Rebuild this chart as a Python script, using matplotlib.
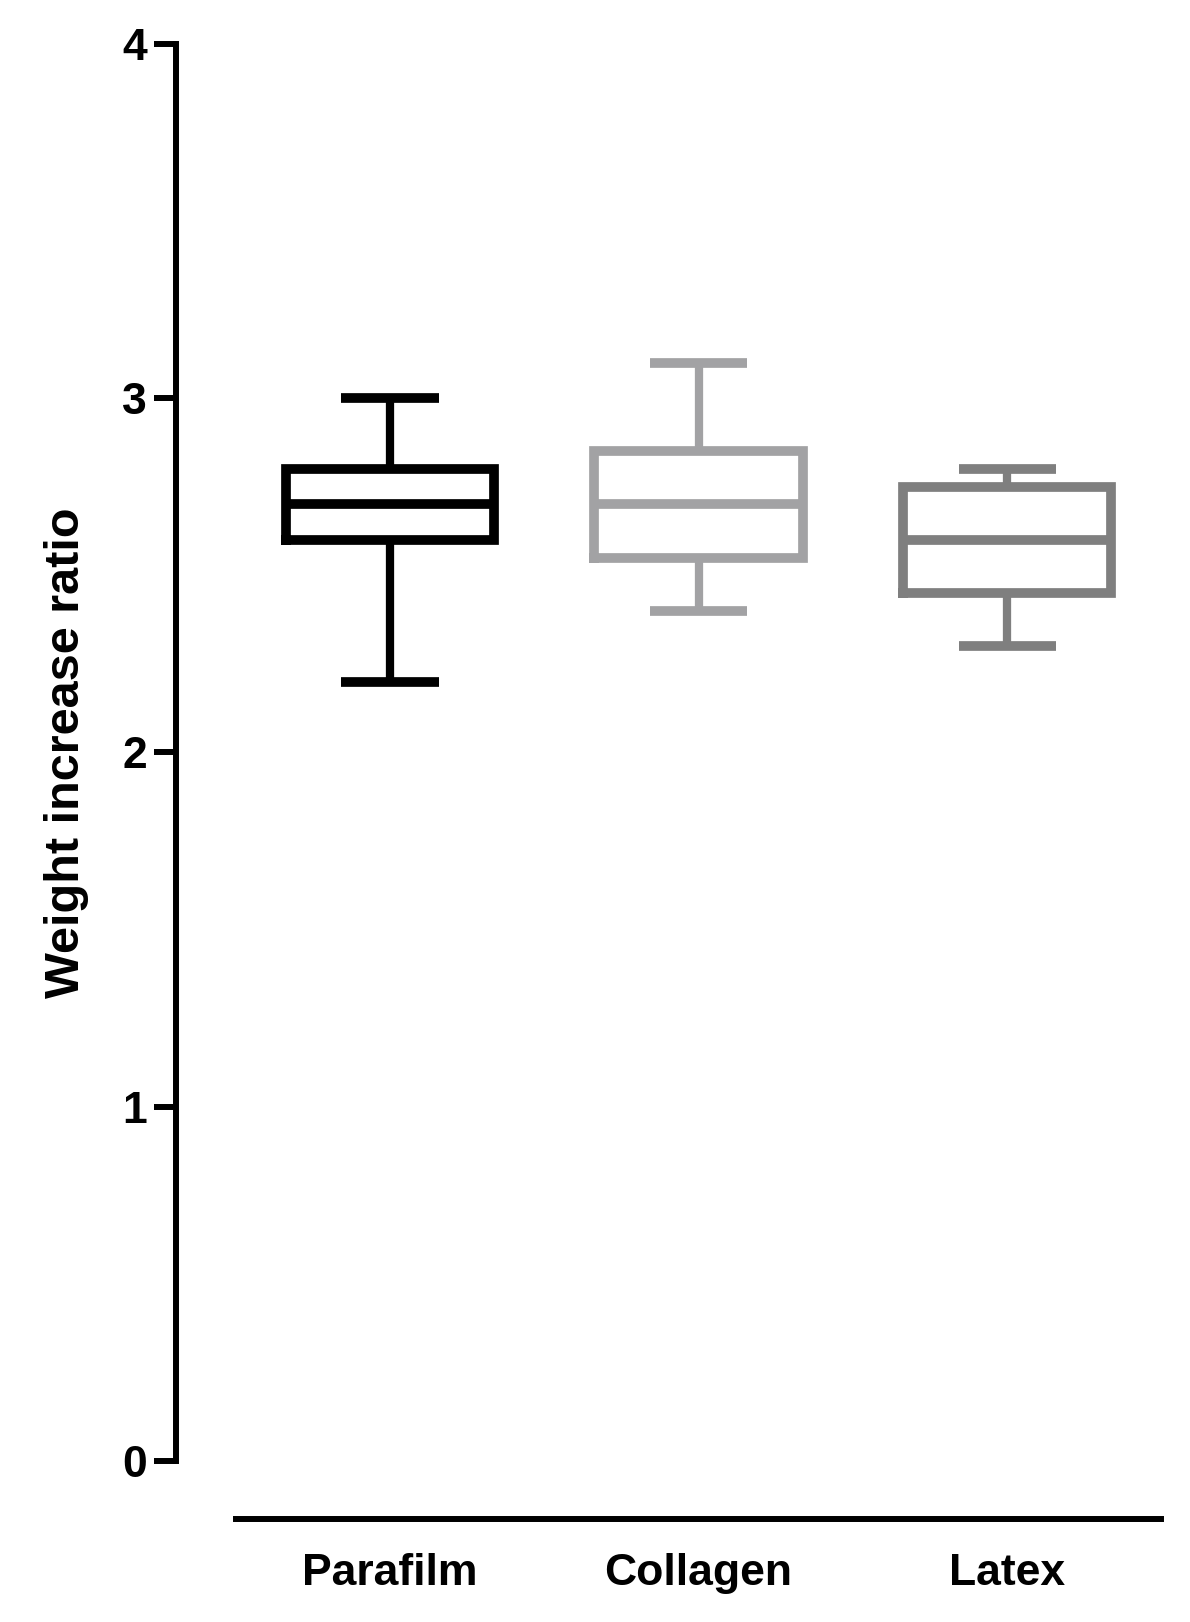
"""Box plot of weight increase ratio for three membrane materials."""
import matplotlib
matplotlib.use("Agg")
import matplotlib.pyplot as plt

# values
materials = ["Parafilm", "Collagen", "Latex"]
whisker_low = [2.20, 2.40, 2.30]
q1 = [2.60, 2.55, 2.45]
median = [2.70, 2.70, 2.60]
q3 = [2.80, 2.85, 2.75]
whisker_high = [3.00, 3.10, 2.80]
y_ticks = [0, 1, 2, 3, 4]

colors = ["#000000", "#a2a2a4", "#7f7f7f"]

plt.rcParams['font.family'] = ['Liberation Sans', 'DejaVu Sans']
plt.rcParams['font.weight'] = 'bold'

fig = plt.figure(figsize=(11.9, 16.22), dpi=100)
ax = fig.add_axes([0.198, 0.0993, 0.778, 0.8737])

lw = 7
for i, name in enumerate(materials):
    stats = [{
        "label": name,
        "whislo": whisker_low[i],
        "q1": q1[i],
        "med": median[i],
        "q3": q3[i],
        "whishi": whisker_high[i],
        "fliers": [],
    }]
    c = colors[i]
    ax.bxp(stats, positions=[i], widths=0.675, capwidths=0.315,
           showfliers=False, manage_ticks=False,
           boxprops=dict(color=c, linewidth=lw, solid_joinstyle='miter'),
           medianprops=dict(color=c, linewidth=lw, solid_capstyle='butt'),
           whiskerprops=dict(color=c, linewidth=lw * 0.85, solid_capstyle='butt'),
           capprops=dict(color=c, linewidth=lw, solid_capstyle='butt'))

ax.set_xlim(-0.5, 2.5)
ax.set_ylim(0, 4)
ax.set_xticks(range(len(materials)))
ax.set_xticklabels(materials)
ax.set_yticks(y_ticks)
ax.set_yticklabels([str(t) for t in y_ticks])

for side in ("top", "right"):
    ax.spines[side].set_visible(False)
ax.spines["left"].set_position(("outward", 43))
ax.spines["bottom"].set_position(("outward", 42))
ax.spines["left"].set_linewidth(4.3)
ax.spines["bottom"].set_linewidth(4.3)

ax.tick_params(axis='y', direction='out', length=16, width=4.3, pad=5,
               labelsize=32)
ax.tick_params(axis='x', length=0, pad=24, labelsize=32)
for lab in ax.get_xticklabels() + ax.get_yticklabels():
    lab.set_fontweight('bold')

ax.set_ylabel("Weight increase ratio", fontsize=35, fontweight='bold')
ax.yaxis.set_label_coords(-0.158, 0.5)

fig.savefig("out.png", dpi=100)
